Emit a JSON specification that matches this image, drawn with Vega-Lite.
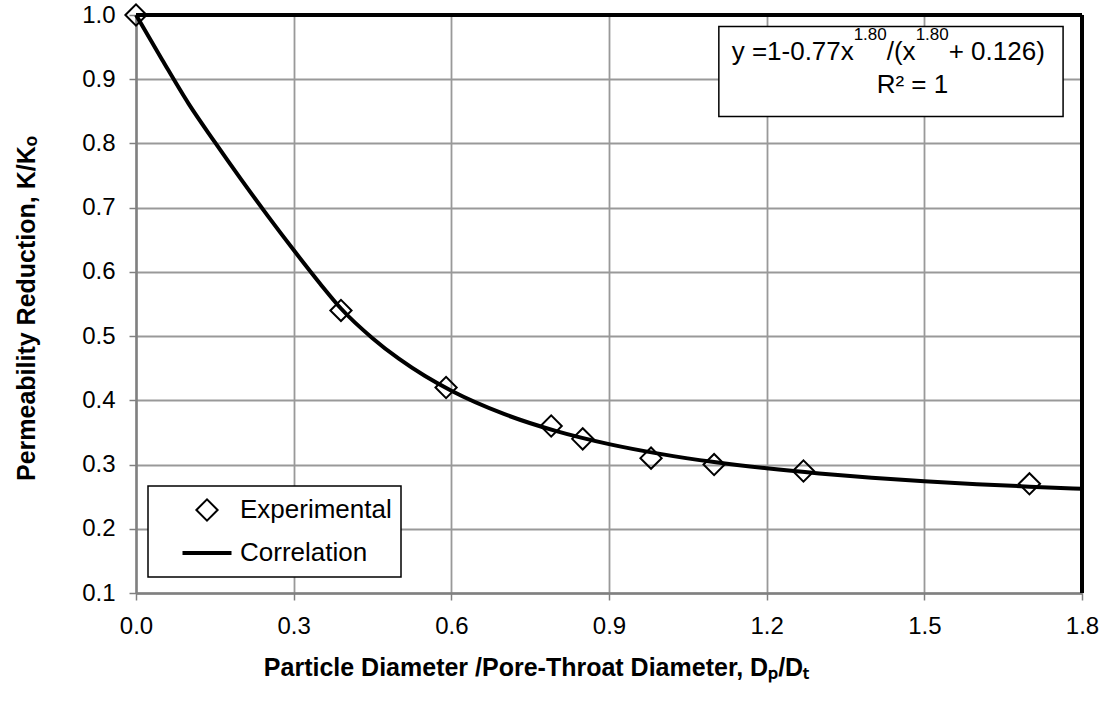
{
  "$schema": "https://vega.github.io/schema/vega-lite/v6.json",
  "width": 946,
  "height": 578,
  "autosize": {"type": "none"},
  "padding": {"left": 136, "top": 15, "right": 18, "bottom": 109},
  "background": "white",
  "config": {
    "font": "Liberation Sans",
    "view": {"stroke": null},
    "axis": {
      "labelFont": "Liberation Sans",
      "labelFontSize": 24,
      "labelColor": "black",
      "labelFlush": false,
      "labelOverlap": false,
      "tickColor": "#808080",
      "tickSize": 7,
      "tickWidth": 1.5,
      "domainColor": "#808080",
      "domainWidth": 2.5,
      "gridColor": "#999999",
      "gridWidth": 1.8,
      "labelPadding": 14,
      "titleFont": "Liberation Sans",
      "titleFontSize": 25,
      "titleFontWeight": "bold",
      "titleColor": "black"
    },
    "legend": {
      "orient": "none",
      "legendX": 12,
      "legendY": 471,
      "strokeColor": "black",
      "strokeWidth": 1.5,
      "fillColor": "white",
      "padding": 9,
      "labelFont": "Liberation Sans",
      "labelFontSize": 26,
      "labelColor": "black",
      "rowPadding": 13,
      "clipHeight": 30,
      "symbolOffset": 23.5,
      "labelOffset": 6.5
    }
  },
  "encoding": {
    "x": {
      "field": "x", "type": "quantitative",
      "scale": {"domain": [0, 1.8], "nice": false, "zero": false},
      "axis": {
        "values": [0, 0.3, 0.6, 0.9, 1.2, 1.5, 1.8],
        "format": ".1f",
        "title": "Particle Diameter /Pore-Throat Diameter, Dₚ/Dₜ",
        "titleX": 400,
        "titleY": 82,
        "titleAlign": "center",
        "titleBaseline": "alphabetic"
      }
    },
    "y": {
      "field": "y", "type": "quantitative",
      "scale": {"domain": [0.1, 1.0], "nice": false, "zero": false},
      "axis": {
        "values": [0.1, 0.2, 0.3, 0.4, 0.5, 0.6, 0.7, 0.8, 0.9, 1.0],
        "format": ".1f",
        "title": "Permeability Reduction, K/Kₒ",
        "titleAngle": -90,
        "titleX": -97,
        "titleY": 293,
        "titleAlign": "center",
        "titleBaseline": "bottom"
      }
    }
  },
  "layer": [
    {
      "data": {"values": [
        {"x": 0, "y": 1.0},
        {"x": 0.05, "y": 0.93},
        {"x": 0.1, "y": 0.862},
        {"x": 0.15, "y": 0.802},
        {"x": 0.2, "y": 0.744},
        {"x": 0.25, "y": 0.688},
        {"x": 0.3, "y": 0.634},
        {"x": 0.35, "y": 0.582},
        {"x": 0.39, "y": 0.543},
        {"x": 0.45, "y": 0.4968},
        {"x": 0.5, "y": 0.4648},
        {"x": 0.55, "y": 0.4378},
        {"x": 0.6, "y": 0.4149},
        {"x": 0.7, "y": 0.3788},
        {"x": 0.8, "y": 0.352},
        {"x": 0.9, "y": 0.3318},
        {"x": 1.0, "y": 0.3162},
        {"x": 1.1, "y": 0.3039},
        {"x": 1.2, "y": 0.2941},
        {"x": 1.3, "y": 0.2861},
        {"x": 1.4, "y": 0.2795},
        {"x": 1.5, "y": 0.2741},
        {"x": 1.6, "y": 0.2695},
        {"x": 1.7, "y": 0.2656},
        {"x": 1.8, "y": 0.2623}
      ]},
      "mark": {"type": "line", "color": "black", "strokeWidth": 4, "interpolate": "monotone"}
    },
    {
      "data": {"values": [
        {"x": 0.0, "y": 1.0, "series": "Experimental"},
        {"x": 0.39, "y": 0.54, "series": "Experimental"},
        {"x": 0.59, "y": 0.42, "series": "Experimental"},
        {"x": 0.79, "y": 0.36, "series": "Experimental"},
        {"x": 0.85, "y": 0.34, "series": "Experimental"},
        {"x": 0.98, "y": 0.31, "series": "Experimental"},
        {"x": 1.10, "y": 0.30, "series": "Experimental"},
        {"x": 1.27, "y": 0.29, "series": "Experimental"},
        {"x": 1.70, "y": 0.27, "series": "Experimental"}
      ]},
      "mark": {"type": "point", "filled": false, "color": "black", "opacity": 1},
      "encoding": {
        "shape": {
          "field": "series", "type": "nominal",
          "scale": {"domain": ["Experimental", "Correlation"], "range": ["diamond", "stroke"]},
          "legend": {"title": null}
        },
        "size": {
          "field": "series", "type": "nominal",
          "scale": {"domain": ["Experimental", "Correlation"], "range": [450, 2401]},
          "legend": {"title": null}
        },
        "strokeWidth": {
          "field": "series", "type": "nominal",
          "scale": {"domain": ["Experimental", "Correlation"], "range": [2, 4]},
          "legend": {"title": null}
        }
      }
    },
    {
      "data": {"values": [{"x": 0, "x2": 1.8, "y": 1.0}]},
      "mark": {"type": "rule", "color": "black", "strokeWidth": 4},
      "encoding": {"x2": {"field": "x2"}}
    },
    {
      "data": {"values": [{"x": 1.8, "y": 0.1, "y2": 1.0}]},
      "mark": {"type": "rule", "color": "black", "strokeWidth": 4},
      "encoding": {"y2": {"field": "y2"}}
    },
    {
      "data": {"values": [{"x": 1.109, "x2": 1.764, "y": 0.842, "y2": 0.982}]},
      "mark": {"type": "rect", "fill": "white", "stroke": "black", "strokeWidth": 1.5},
      "encoding": {"x2": {"field": "x2"}, "y2": {"field": "y2"}}
    },
    {
      "data": {"values": [{"x": 1.1334, "y": 0.9299, "label": "y =1-0.77x"}]},
      "mark": {"type": "text", "align": "left", "baseline": "alphabetic", "fontSize": 26, "color": "black"},
      "encoding": {"text": {"field": "label"}}
    },
    {
      "data": {"values": [{"x": 1.1334, "y": 0.9299, "label": "1.80"}]},
      "mark": {"type": "text", "align": "left", "baseline": "alphabetic", "fontSize": 17, "color": "black", "dx": 122, "dy": -20},
      "encoding": {"text": {"field": "label"}}
    },
    {
      "data": {"values": [{"x": 1.1334, "y": 0.9299, "label": "/(x"}]},
      "mark": {"type": "text", "align": "left", "baseline": "alphabetic", "fontSize": 26, "color": "black", "dx": 155},
      "encoding": {"text": {"field": "label"}}
    },
    {
      "data": {"values": [{"x": 1.1334, "y": 0.9299, "label": "1.80"}]},
      "mark": {"type": "text", "align": "left", "baseline": "alphabetic", "fontSize": 17, "color": "black", "dx": 184, "dy": -20},
      "encoding": {"text": {"field": "label"}}
    },
    {
      "data": {"values": [{"x": 1.1334, "y": 0.9299, "label": "+ 0.126)"}]},
      "mark": {"type": "text", "align": "left", "baseline": "alphabetic", "fontSize": 26, "color": "black", "dx": 217},
      "encoding": {"text": {"field": "label"}}
    },
    {
      "data": {"values": [{"x": 1.4774, "y": 0.878, "label": "R² = 1"}]},
      "mark": {"type": "text", "align": "center", "baseline": "alphabetic", "fontSize": 26, "color": "black"},
      "encoding": {"text": {"field": "label"}}
    }
  ]
}
